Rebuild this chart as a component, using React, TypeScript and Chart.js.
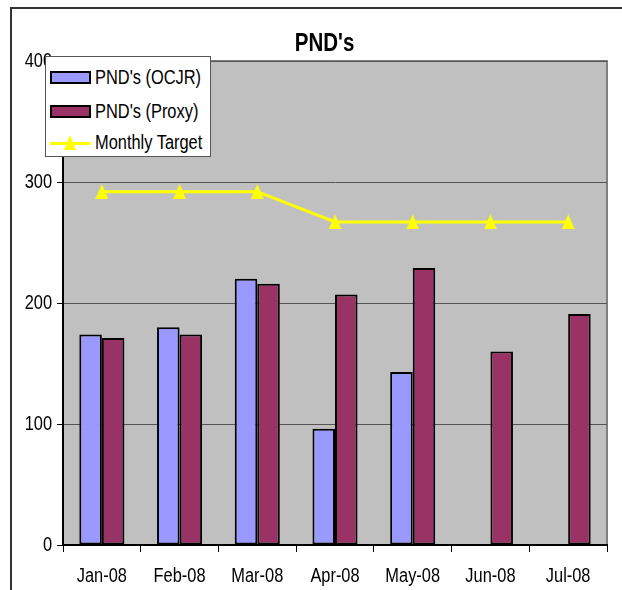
import React, { useEffect, useRef } from "react";
import { Chart, registerables } from "chart.js";

Chart.register(...registerables);

const categories = ["Jan-08", "Feb-08", "Mar-08", "Apr-08", "May-08", "Jun-08", "Jul-08"];
const ocjrValues: (number | null)[] = [174, 180, 220, 96, 143, null, null];
const proxyValues: number[] = [171, 174, 216, 207, 229, 160, 191];
const targetValues: number[] = [292, 292, 292, 267, 267, 267, 267];
const yTickMin = 0;
const yTickMax = 400;
const yTickStep = 100;
const titleText = "PND's";
const seriesNames = ["PND's (OCJR)", "PND's (Proxy)", "Monthly Target"];

const FONT = "'Liberation Sans', Arial, sans-serif";
const NARROW = 0.82;
const OCJR_COLOR = "#9999FF";
const PROXY_COLOR = "#993366";
const TARGET_COLOR = "#FFFF00";

function makeTriangle(): HTMLCanvasElement {
  const c = document.createElement("canvas");
  c.width = 13;
  c.height = 15;
  const ctx = c.getContext("2d")!;
  ctx.fillStyle = TARGET_COLOR;
  ctx.beginPath();
  ctx.moveTo(6.5, 0);
  ctx.lineTo(13, 15);
  ctx.lineTo(0, 15);
  ctx.closePath();
  ctx.fill();
  return c;
}

function drawNarrowText(ctx: CanvasRenderingContext2D, text: string, x: number, y: number, align: CanvasTextAlign) {
  ctx.save();
  ctx.translate(x, y);
  ctx.scale(NARROW, 1);
  ctx.textAlign = align;
  ctx.textBaseline = "middle";
  ctx.fillText(text, 0, 0);
  ctx.restore();
}

const plotBgPlugin = {
  id: "plotBg",
  beforeDraw(chart: any) {
    const { ctx, chartArea: a } = chart;
    ctx.save();
    ctx.fillStyle = "#C0C0C0";
    ctx.fillRect(a.left, a.top, a.right - a.left, a.bottom - a.top);
    ctx.strokeStyle = "#808080";
    ctx.lineWidth = 2;
    ctx.beginPath();
    ctx.moveTo(a.left, a.top);
    ctx.lineTo(a.right, a.top);
    ctx.lineTo(a.right, a.bottom);
    ctx.stroke();
    ctx.restore();
  },
  afterDraw(chart: any) {
    const { ctx, chartArea: a } = chart;
    const xs = chart.scales.x;
    const ys = chart.scales.y;
    ctx.save();
    ctx.fillStyle = "#000";
    ctx.font = `bold 25px ${FONT}`;
    drawNarrowText(ctx, titleText, (a.left + a.right) / 2 - 10.5, 44, "center");
    ctx.font = `20px ${FONT}`;
    xs.ticks.forEach((t: any, i: number) => {
      drawNarrowText(ctx, String(xs.getLabelForValue(t.value)), xs.getPixelForTick(i), a.bottom + 31.5, "center");
    });
    ys.ticks.forEach((t: any, i: number) => {
      drawNarrowText(ctx, String(t.label), a.left - 11, ys.getPixelForTick(i) + 0.5, "right");
    });
    ctx.restore();
  },
};

function LegendSwatch({ color }: { color: string }) {
  return (
    <div
      style={{
        width: 41,
        height: 13,
        flex: "0 0 auto",
        boxSizing: "border-box",
        background: color,
        border: "2px solid #000",
      }}
    />
  );
}

export default function App() {
  const canvasRef = useRef<HTMLCanvasElement | null>(null);

  useEffect(() => {
    if (!canvasRef.current) return;
    const tri = makeTriangle();
    const chart = new Chart(canvasRef.current, {
      type: "bar",
      data: {
        labels: categories,
        datasets: [
          {
            type: "line",
            label: seriesNames[2],
            data: targetValues,
            borderColor: TARGET_COLOR,
            backgroundColor: TARGET_COLOR,
            borderWidth: 3,
            tension: 0,
            pointStyle: tri as any,
            pointRadius: 7,
            order: 0,
          } as any,
          {
            label: seriesNames[0],
            data: ocjrValues,
            backgroundColor: OCJR_COLOR,
            borderColor: "#000",
            borderWidth: 2,
            borderSkipped: false,
            categoryPercentage: 0.58,
            barPercentage: 1.0,
            order: 1,
          },
          {
            label: seriesNames[1],
            data: proxyValues,
            backgroundColor: PROXY_COLOR,
            borderColor: "#000",
            borderWidth: 2,
            borderSkipped: false,
            categoryPercentage: 0.58,
            barPercentage: 1.0,
            order: 1,
          },
        ],
      },
      options: {
        animation: false,
        responsive: false,
        maintainAspectRatio: false,
        layout: { padding: { left: 0, right: 15, top: 61, bottom: 0 } },
        plugins: {
          legend: { display: false },
          title: { display: false },
          tooltip: { enabled: false },
        },
        scales: {
          x: {
            offset: true,
            grid: {
              offset: true,
              drawOnChartArea: false,
              drawTicks: true,
              tickLength: 7,
              tickColor: "#000",
              tickWidth: 1,
            },
            border: { display: true, color: "#000", width: 2 },
            ticks: { display: false, autoSkip: false, maxRotation: 0 },
            afterFit: (s: any) => {
              s.height = 45;
            },
          },
          y: {
            min: yTickMin,
            max: yTickMax,
            ticks: { stepSize: yTickStep, display: false },
            grid: { color: "#555555", lineWidth: 1, tickLength: 6, tickColor: "#000" },
            border: { display: true, color: "#000", width: 2 },
            afterFit: (s: any) => {
              s.width = 63;
            },
          },
        },
      },
      plugins: [plotBgPlugin],
    });
    return () => chart.destroy();
  }, []);

  const textStyle: React.CSSProperties = {
    fontFamily: FONT,
    fontSize: 20,
    color: "#000",
    lineHeight: "20px",
    whiteSpace: "nowrap",
    display: "inline-block",
    transform: `scaleX(${NARROW})`,
    transformOrigin: "0 50%",
  };

  return (
    <div style={{ position: "absolute", left: 0, top: 0, width: 622, height: 590, background: "#fff", overflow: "hidden" }}>
      <canvas ref={canvasRef} width={622} height={590} style={{ position: "absolute", left: 0, top: 0, width: 622, height: 590 }} />
      <div
        style={{
          position: "absolute",
          left: 10,
          top: 7,
          width: 700,
          height: 700,
          borderLeft: "2px solid #333",
          borderTop: "2px solid #333",
          pointerEvents: "none",
        }}
      />
      <div
        style={{
          position: "absolute",
          left: 45,
          top: 56,
          width: 166,
          height: 101,
          boxSizing: "border-box",
          background: "#fff",
          border: "1px solid #555",
          overflow: "hidden",
        }}
      >
        <div style={{ position: "absolute", left: 4, top: 10, display: "flex", alignItems: "center" }}>
          <LegendSwatch color={OCJR_COLOR} />
          <span style={{ ...textStyle, marginLeft: 4 }}>{seriesNames[0]}</span>
        </div>
        <div style={{ position: "absolute", left: 4, top: 44, display: "flex", alignItems: "center" }}>
          <LegendSwatch color={PROXY_COLOR} />
          <span style={{ ...textStyle, marginLeft: 4 }}>{seriesNames[1]}</span>
        </div>
        <div style={{ position: "absolute", left: 4, top: 75, display: "flex", alignItems: "center" }}>
          <div style={{ position: "relative", width: 41, height: 15, flex: "0 0 auto" }}>
            <div style={{ position: "absolute", left: 0, top: 7, width: 41, height: 3, background: TARGET_COLOR }} />
            <div
              style={{
                position: "absolute",
                left: 14,
                top: 0,
                width: 0,
                height: 0,
                borderLeft: "6.5px solid transparent",
                borderRight: "6.5px solid transparent",
                borderBottom: `15px solid ${TARGET_COLOR}`,
              }}
            />
          </div>
          <span style={{ ...textStyle, marginLeft: 4 }}>{seriesNames[2]}</span>
        </div>
      </div>
    </div>
  );
}
